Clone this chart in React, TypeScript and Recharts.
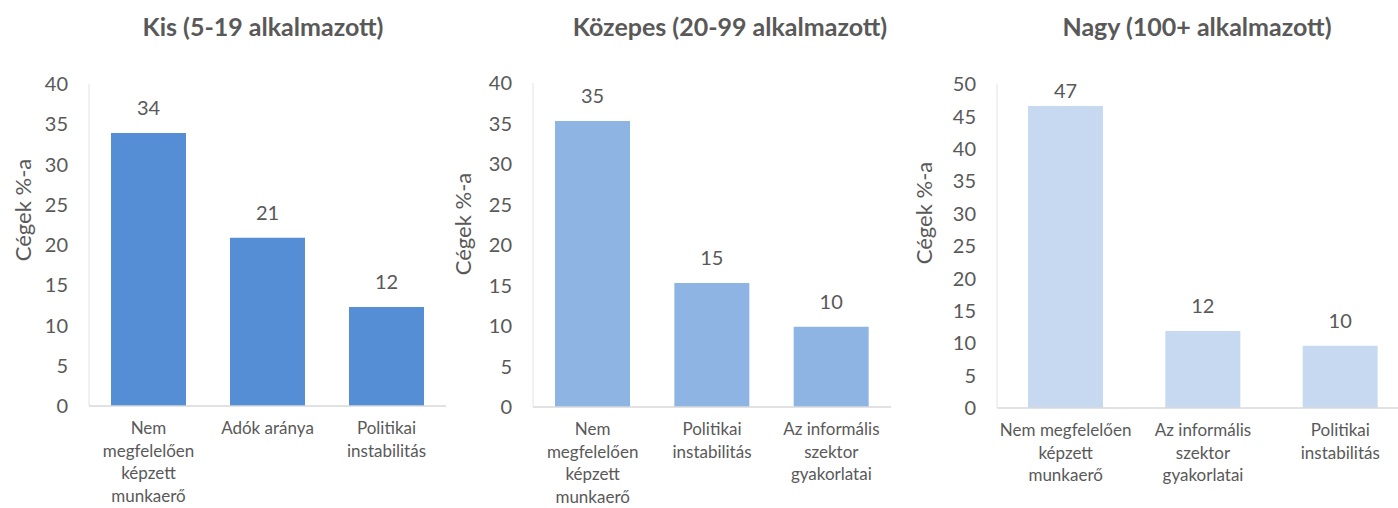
import { BarChart, Bar, XAxis, YAxis, LabelList } from 'recharts';

const FONT = "Lato, 'Open Sans', sans-serif";
const TEXT = '#595959';

// categories ("\n" = line break in the axis label)
const kisCategories = ['Nem\nmegfelelően\nképzett\nmunkaerő', 'Adók aránya', 'Politikai\ninstabilitás'];
const kozepesCategories = ['Nem\nmegfelelően\nképzett\nmunkaerő', 'Politikai\ninstabilitás', 'Az informális\nszektor\ngyakorlatai'];
const nagyCategories = ['Nem megfelelően\nképzett\nmunkaerő', 'Az informális\nszektor\ngyakorlatai', 'Politikai\ninstabilitás'];

// % of firms
const kisValues = [33.9, 20.9, 12.3];
const kozepesValues = [35.3, 15.3, 9.9];
const nagyValues = [46.6, 11.9, 9.6];

const ticks40 = [0, 5, 10, 15, 20, 25, 30, 35, 40];
const ticks50 = [0, 5, 10, 15, 20, 25, 30, 35, 40, 45, 50];

const titles = ['Kis (5-19 alkalmazott)', 'Közepes (20-99 alkalmazott)', 'Nagy (100+ alkalmazott)'];
const yLabel = 'Cégek %-a';

interface PanelProps {
  categories: string[];
  values: number[];
  ticks: number[];
  color: string;
  left: number;
  width: number;
  top: number;
  bottom: number;
  rightMargin: number;
}

const XTick = (props: any) => {
  const { x, y, payload } = props;
  const lines = String(payload.value).split('\n');
  return (
    <text x={x} y={y + 20} textAnchor="middle" fill={TEXT} fontSize={17} fontFamily={FONT}>
      {lines.map((l, i) => (
        <tspan key={i} x={x} dy={i === 0 ? 0 : 22.5}>
          {l}
        </tspan>
      ))}
    </text>
  );
};

function Panel({ categories, values, ticks, color, left, width, top, bottom, rightMargin }: PanelProps) {
  const data = categories.map((c, i) => ({ name: c, value: values[i] }));
  const renderLabel = (props: any) => {
    const { x, y, width: w, value } = props;
    const baseline = Math.max(y - 18, top + 14);
    return (
      <text x={x + w / 2} y={baseline} textAnchor="middle" fill={TEXT} fontSize={20} fontFamily={FONT}>
        {Math.round(value)}
      </text>
    );
  };
  return (
    <div style={{ position: 'absolute', left, top: 0 }}>
      <BarChart
        width={width}
        height={508}
        data={data}
        margin={{ top, right: rightMargin, bottom: 0, left: 0 }}
      >
        <XAxis
          dataKey="name"
          tick={<XTick />}
          tickLine={false}
          axisLine={{ stroke: '#D9D9D9', strokeWidth: 1.5 }}
          interval={0}
          height={508 - bottom}
        />
        <YAxis
          width={89}
          domain={[0, ticks[ticks.length - 1]]}
          ticks={ticks}
          interval={0}
          tickLine={false}
          tickSize={0}
          tickMargin={21}
          axisLine={{ stroke: '#DCE4EF' }}
          tick={{ fill: TEXT, fontSize: 20, fontFamily: FONT }}
        />
        <Bar dataKey="value" fill={color} barSize={75} isAnimationActive={false}>
          <LabelList dataKey="value" content={renderLabel} />
        </Bar>
      </BarChart>
    </div>
  );
}

const titleCenters = [263, 730, 1197];
const yLabelCenters = [
  [22, 210],
  [462, 224],
  [923, 213],
];

export default function App() {
  return (
    <div
      style={{
        position: 'absolute',
        left: 0,
        top: 0,
        width: 1398,
        height: 508,
        overflow: 'hidden',
        background: '#fff',
        fontFamily: FONT,
      }}
    >
      <Panel categories={kisCategories} values={kisValues} ticks={ticks40} color="#558ED5" left={0} width={460} top={84} bottom={406} rightMargin={14} />
      <Panel categories={kozepesCategories} values={kozepesValues} ticks={ticks40} color="#8EB4E3" left={444} width={457} top={83} bottom={407} rightMargin={10} />
      <Panel categories={nagyCategories} values={nagyValues} ticks={ticks50} color="#C6D9F1" left={908} width={512} top={84} bottom={408} rightMargin={11} />
      {titles.map((t, i) => (
        <div
          key={t}
          style={{
            position: 'absolute',
            left: titleCenters[i],
            top: 26,
            transform: 'translate(-50%, -50%)',
            whiteSpace: 'nowrap',
            fontSize: 25,
            fontWeight: 700,
            color: TEXT,
          }}
        >
          {t}
        </div>
      ))}
      {yLabelCenters.map(([cx, cy], i) => (
        <div
          key={i}
          style={{
            position: 'absolute',
            left: cx,
            top: cy,
            transform: 'translate(-50%, -50%) rotate(-90deg)',
            whiteSpace: 'nowrap',
            fontSize: 22,
            color: TEXT,
          }}
        >
          {yLabel}
        </div>
      ))}
    </div>
  );
}
